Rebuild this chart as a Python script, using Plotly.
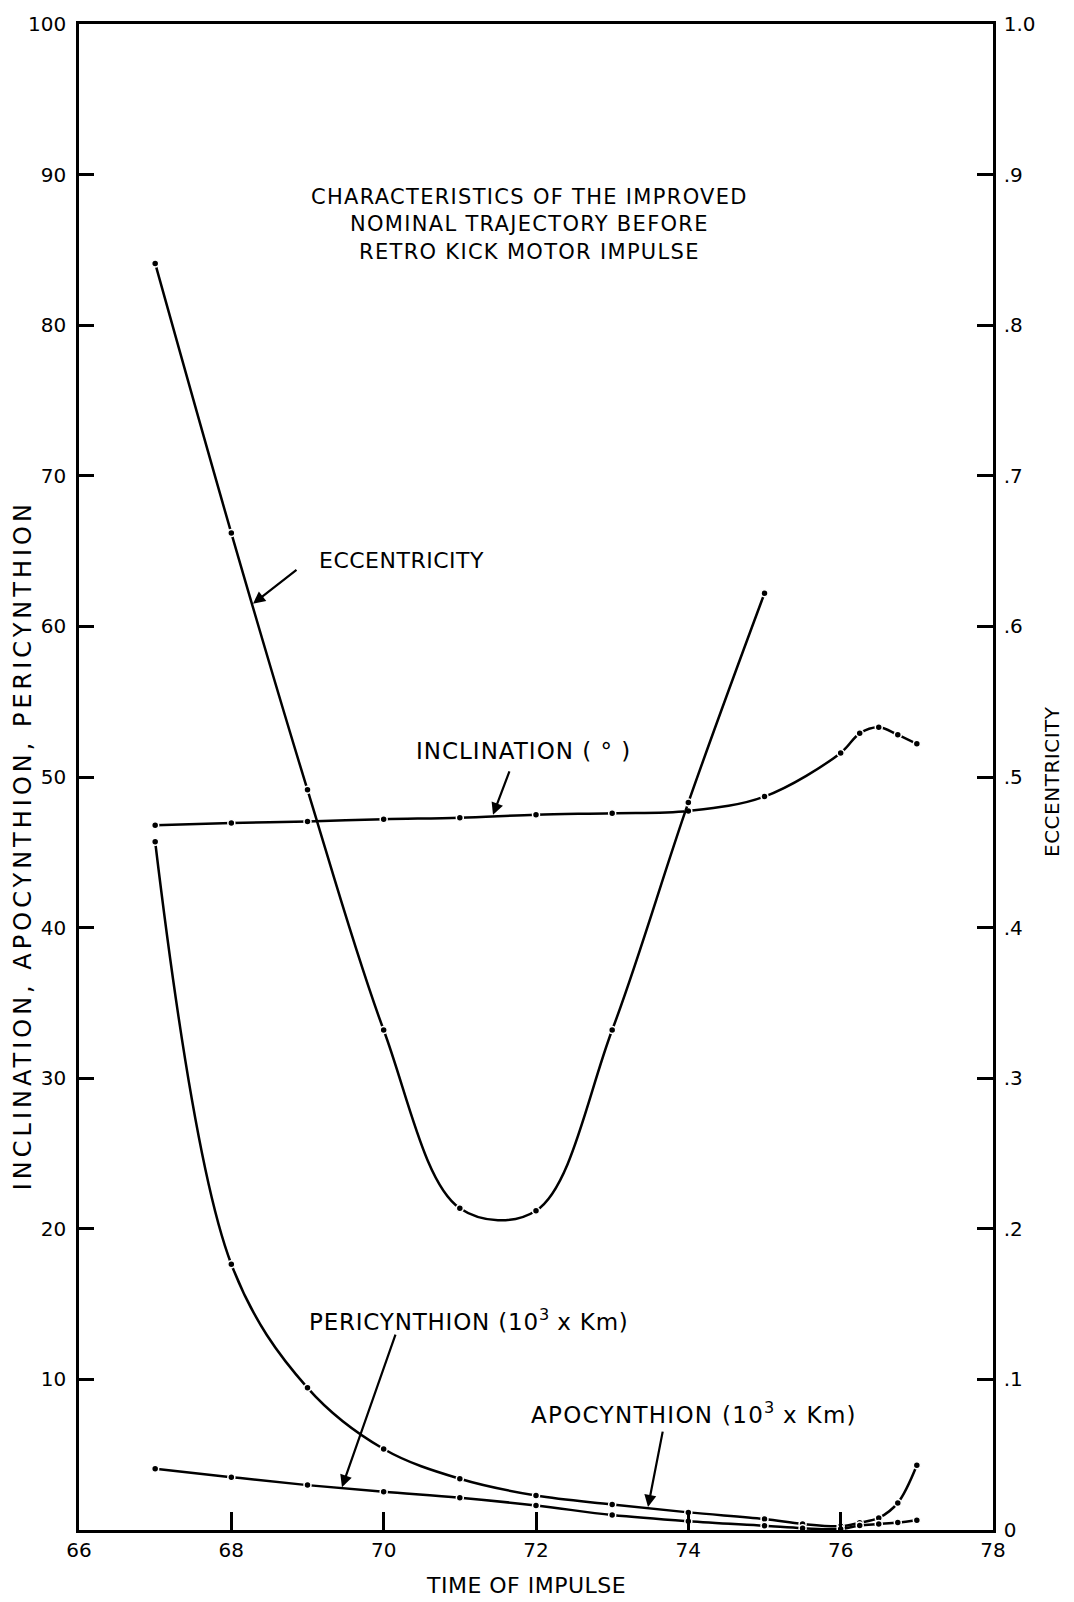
import plotly.graph_objects as go

# ---------------- data ----------------
time_ecc = [67, 68, 69, 70, 71, 72, 73, 74, 75]
eccentricity = [0.841, 0.662, 0.4915, 0.332, 0.2136, 0.212, 0.332, 0.483, 0.622]

time_incl = [67, 68, 69, 70, 71, 72, 73, 74, 75, 76, 76.25, 76.5, 76.75, 77]
inclination = [46.8, 46.95, 47.05, 47.2, 47.3, 47.5, 47.6, 47.75, 48.7, 51.6, 52.9, 53.3, 52.8, 52.2]

time_apo = [67, 68, 69, 70, 71, 72, 73, 74, 75, 75.5, 76, 76.25, 76.5, 76.75, 77]
apocynthion = [45.7, 17.65, 9.44, 5.38, 3.40, 2.29, 1.70, 1.17, 0.73, 0.4, 0.25, 0.48, 0.8, 1.8, 4.3]

time_peri = [67, 68, 69, 70, 71, 72, 73, 74, 75, 75.5, 76, 76.25, 76.5, 76.75, 77]
pericynthion = [4.06, 3.51, 2.98, 2.54, 2.14, 1.63, 0.99, 0.58, 0.28, 0.12, 0.06, 0.3, 0.4, 0.5, 0.65]

x_ticks = [66, 68, 70, 72, 74, 76, 78]
left_ticks = [10, 20, 30, 40, 50, 60, 70, 80, 90, 100]
right_ticks = [0, 0.1, 0.2, 0.3, 0.4, 0.5, 0.6, 0.7, 0.8, 0.9, 1.0]
right_labels = ["0", ".1", ".2", ".3", ".4", ".5", ".6", ".7", ".8", ".9", "1.0"]

FONT = "DejaVu Sans"

line_style = dict(color="black", width=2.5, shape="spline", smoothing=1)
marker_style = dict(size=7, color="black", line=dict(color="white", width=1.5))

fig = go.Figure()
for xs, ys, ax in [(time_apo, apocynthion, "y"), (time_peri, pericynthion, "y"),
                   (time_incl, inclination, "y"), (time_ecc, eccentricity, "y2")]:
    fig.add_trace(go.Scatter(x=xs, y=ys, yaxis=ax, mode="lines+markers",
                             line=line_style, marker=marker_style,
                             showlegend=False, hoverinfo="skip", cliponaxis=False))

W, H = 1074, 1602
L, R, T, B = 79, 993, 18, 1530


def px_to_data(px, py):
    return 66 + (px - L) / ((R - L) / 12.0), (B - py) / ((B - T) / 100.0)


def sp(text, spacing):
    return f'<span style="letter-spacing:{spacing}px">{text}</span>'


annotations = []
# title block
tx, ty = px_to_data(529, 219)
title_lines = ["CHARACTERISTICS OF THE IMPROVED", "NOMINAL TRAJECTORY BEFORE", "RETRO KICK MOTOR IMPULSE"]
annotations.append(dict(x=tx, y=ty, xref="x", yref="y", showarrow=False,
                        xanchor="center", yanchor="middle",
                        text="<br>".join(sp(t, 1.3) for t in title_lines),
                        font=dict(family=FONT, size=21, color="black"), align="center"))
# curve labels
sup3 = "<sup>3</sup>"
for text, cx, cy, size in [
    (sp("ECCENTRICITY", 0.5), 401, 557, 22),
    (sp("INCLINATION ( ° )", 1.0), 523, 748, 23),
    (sp("PERICYNTHION (10", 0.8) + sup3 + sp(" x Km)", 0.8), 469, 1319, 23),
    (sp("APOCYNTHION (10", 1.3) + sup3 + sp(" x Km)", 1.3), 694, 1413, 23),
]:
    dx, dy = px_to_data(cx, cy)
    annotations.append(dict(x=dx, y=dy, xref="x", yref="y", showarrow=False, text=text,
                            xanchor="center", yanchor="middle",
                            font=dict(family=FONT, size=size, color="black")))
# arrows (tip px, tail px)
for tip, tail in [((253, 600), (298, 565)),
                  ((493, 812), (510, 767)),
                  ((342, 1487), (396, 1333)),
                  ((648, 1507), (663, 1430))]:
    dx, dy = px_to_data(*tip)
    annotations.append(dict(x=dx, y=dy, xref="x", yref="y", text="", showarrow=True,
                            ax=tail[0] - tip[0], ay=tail[1] - tip[1],
                            arrowhead=2, arrowsize=1.1, arrowwidth=2.2, arrowcolor="black",
                            standoff=0))
# axis titles
annotations.append(dict(x=(22.5 - L) / (R - L), y=(B - 843) / (B - T), xref="paper", yref="paper",
                        xanchor="center", yanchor="middle",
                        text=sp("INCLINATION, APOCYNTHION, PERICYNTHION", 4), textangle=-90, showarrow=False,
                        font=dict(family=FONT, size=24, color="black")))
annotations.append(dict(x=(1052 - L) / (R - L), y=(B - 779) / (B - T), xref="paper", yref="paper",
                        xanchor="center", yanchor="middle",
                        text=sp("ECCENTRICITY", 0.5), textangle=-90, showarrow=False,
                        font=dict(family=FONT, size=20, color="black")))
annotations.append(dict(x=(526 - L) / (R - L), y=(B - 1586) / (B - T), xref="paper", yref="paper",
                        xanchor="center", yanchor="middle",
                        text=sp("TIME OF IMPULSE", 0.5), showarrow=False,
                        font=dict(family=FONT, size=22, color="black")))

tickfont = dict(family=FONT, size=20, color="black")
fig.update_layout(
    width=W, height=H,
    margin=dict(l=L, r=W - R, t=T, b=H - B, pad=0),
    paper_bgcolor="white", plot_bgcolor="white",
    font=dict(family=FONT, color="black"),
    annotations=annotations,
    xaxis=dict(range=[66, 78], tickvals=x_ticks, ticktext=[str(v) for v in x_ticks],
               ticks="inside", ticklen=18, tickwidth=2.5, tickcolor="black",
               showline=True, linewidth=2.5, linecolor="black", mirror=True,
               showgrid=False, zeroline=False, tickfont=tickfont, ticklabelstandoff=0),
    yaxis=dict(range=[0, 100], tickvals=left_ticks, ticktext=[str(v) for v in left_ticks],
               ticks="inside", ticklen=15, tickwidth=2.5, tickcolor="black",
               showline=True, linewidth=2.5, linecolor="black",
               showgrid=False, zeroline=False, tickfont=tickfont, ticklabelstandoff=6),
    yaxis2=dict(range=[0, 1], overlaying="y", side="right", tickvals=right_ticks, ticktext=right_labels,
                ticks="inside", ticklen=16, tickwidth=2.5, tickcolor="black",
                showline=True, linewidth=2.5, linecolor="black",
                showgrid=False, zeroline=False, tickfont=tickfont, ticklabelstandoff=4),
)

fig.write_html("out.html")
